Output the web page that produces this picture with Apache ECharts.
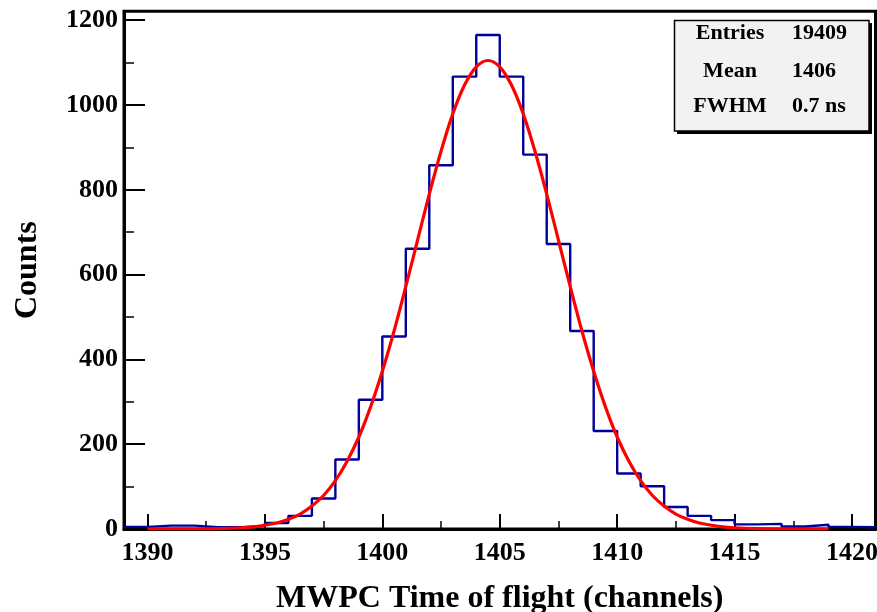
<!DOCTYPE html>
<html>
<head>
<meta charset="utf-8">
<script src="https://cdn.jsdelivr.net/npm/echarts@6/dist/echarts.min.js"></script>
<style>
html,body{margin:0;padding:0;background:#ffffff;}
#chart{width:877px;height:612px;}
</style>
</head>
<body>
<div id="chart"></div>
<script>
// ---- data ----
const binStart = [1389,1390,1391,1392,1393,1394,1395,1396,1397,1398,1399,1400,1401,1402,1403,1404,
                  1405,1406,1407,1408,1409,1410,1411,1412,1413,1414,1415,1416,1417,1418,1419,1420];
const binWidth = 1;
const counts   = [5,8,8,4,4,7,14,31,72,164,305,454,661,858,1067,1165,
                  1067,883,672,467,231,131,101,52,31,21,11,12,6,10,5,4];

// fitted curve
const fitX = [1390,1391,1392,1393,1394,1394.5,1395,1395.5,1396,1396.5,1397,1397.5,1398,1398.5,1399,1399.5,
              1400,1400.5,1401,1401.5,1402,1402.5,1403,1403.5,1404,1404.5,1405,1405.5,1406,1406.5,1407,1407.5,
              1408,1408.5,1409,1409.5,1410,1410.5,1411,1411.5,1412,1412.5,1413,1413.5,1414,1414.5,1415,1416,
              1417,1418,1419];
const fitY = [0,0,0,1,3,5,9,14,23,35,54,79,114,160,217,288,
              372,467,572,681,790,891,979,1047,1090,1105,1090,1047,979,891,790,681,
              572,467,372,288,217,160,114,79,54,35,23,14,9,5,3,1,
              0,0,0];

const xMajorTicks = [1390,1395,1400,1405,1410,1415,1420];
const xMinorTicks = [1392.5,1397.5,1402.5,1407.5,1412.5,1417.5];
const yMajorTicks = [0,200,400,600,800,1000,1200];
const yMinorTicks = [100,300,500,700,900,1100];

const statsLabels = ['Entries','Mean','FWHM'];
const statsValues = ['19409','1406','0.7 ns'];

const xTitle = 'MWPC Time of flight (channels)';
const yTitle = 'Counts';

const xRange = [1389, 1421];
const yRange = [0, 1221];

// ---- build ----
const FONT = '"Liberation Serif", "Times New Roman", serif';
const plain = v => String(v);

const histData = binStart.map((x, i) => [x, counts[i]]);
histData.push([binStart[binStart.length - 1] + binWidth, counts[counts.length - 1]]);
const fitData = fitX.map((x, i) => [x, fitY[i]]);

const rowY = [33, 71, 106];
const graphics = [
  {type:'rect', z:100, shape:{x:677, y:23, width:195, height:111}, style:{fill:'#000000'}},
  {type:'rect', z:101, shape:{x:674.5, y:20.5, width:194.5, height:110.5},
   style:{fill:'#f2f2f2', stroke:'#000000', lineWidth:1.5}}
];
statsLabels.forEach((lab, i) => {
  graphics.push({type:'text', z:102, x:730, y:rowY[i],
    style:{text:lab, font:'bold 22px ' + FONT, fill:'#000', align:'center', verticalAlign:'middle'}});
  graphics.push({type:'text', z:102, x:792, y:rowY[i],
    style:{text:statsValues[i], font:'bold 22px ' + FONT, fill:'#000', align:'left', verticalAlign:'middle'}});
});

const chart = echarts.init(document.getElementById('chart'), null, {renderer:'canvas'});
chart.setOption({
  animation: false,
  backgroundColor: '#ffffff',
  grid: {left:124, right:1.5, top:11.3, bottom:83, containLabel:false, outerBoundsMode:'none',
         show:true, borderColor:'#000', borderWidth:3, backgroundColor:'transparent'},
  xAxis: [
    {type:'value', min:xRange[0], max:xRange[1], position:'bottom',
     name:xTitle, nameLocation:'middle', nameGap:54,
     nameTextStyle:{fontFamily:FONT, fontWeight:'bold', fontSize:32, color:'#000'},
     axisLine:{show:true, lineStyle:{color:'#000', width:3}},
     axisTick:{show:true, inside:true, length:15, customValues:xMajorTicks, lineStyle:{color:'#000', width:2}},
     axisLabel:{show:true, customValues:xMajorTicks, formatter:plain, margin:11, fontFamily:FONT, fontWeight:'bold', fontSize:26, color:'#000'},
     splitLine:{show:false}},
    {type:'value', min:xRange[0], max:xRange[1], position:'bottom',
     axisLine:{show:false},
     axisTick:{show:true, inside:true, length:8, customValues:xMinorTicks, lineStyle:{color:'#000', width:1.5}},
     axisLabel:{show:false}, splitLine:{show:false}}
  ],
  yAxis: [
    {type:'value', min:yRange[0], max:yRange[1], position:'left',
     name:yTitle, nameLocation:'middle', nameGap:80, nameRotate:90,
     nameTextStyle:{fontFamily:FONT, fontWeight:'bold', fontSize:32, color:'#000'},
     axisLine:{show:true, lineStyle:{color:'#000', width:3}},
     axisTick:{show:true, inside:true, length:21, customValues:yMajorTicks, lineStyle:{color:'#000', width:2}},
     axisLabel:{show:true, customValues:yMajorTicks, formatter:plain, margin:6, padding:[3,0,0,0], fontFamily:FONT, fontWeight:'bold', fontSize:26, color:'#000'},
     splitLine:{show:false}},
    {type:'value', min:yRange[0], max:yRange[1], position:'left',
     axisLine:{show:false},
     axisTick:{show:true, inside:true, length:10, customValues:yMinorTicks, lineStyle:{color:'#000', width:1.5}},
     axisLabel:{show:false}, splitLine:{show:false}}
  ],
  series: [
    {type:'line', name:'hist', xAxisIndex:0, yAxisIndex:0, data:histData, step:'end',
     showSymbol:false, symbol:'none', lineStyle:{color:'#00009a', width:2.4}, z:3, silent:true},
    {type:'line', name:'fit', xAxisIndex:0, yAxisIndex:0, data:fitData, smooth:0.35,
     showSymbol:false, symbol:'none', lineStyle:{color:'#ff0000', width:3.2}, z:4, silent:true}
  ],
  graphic: graphics
});
</script>
</body>
</html>
